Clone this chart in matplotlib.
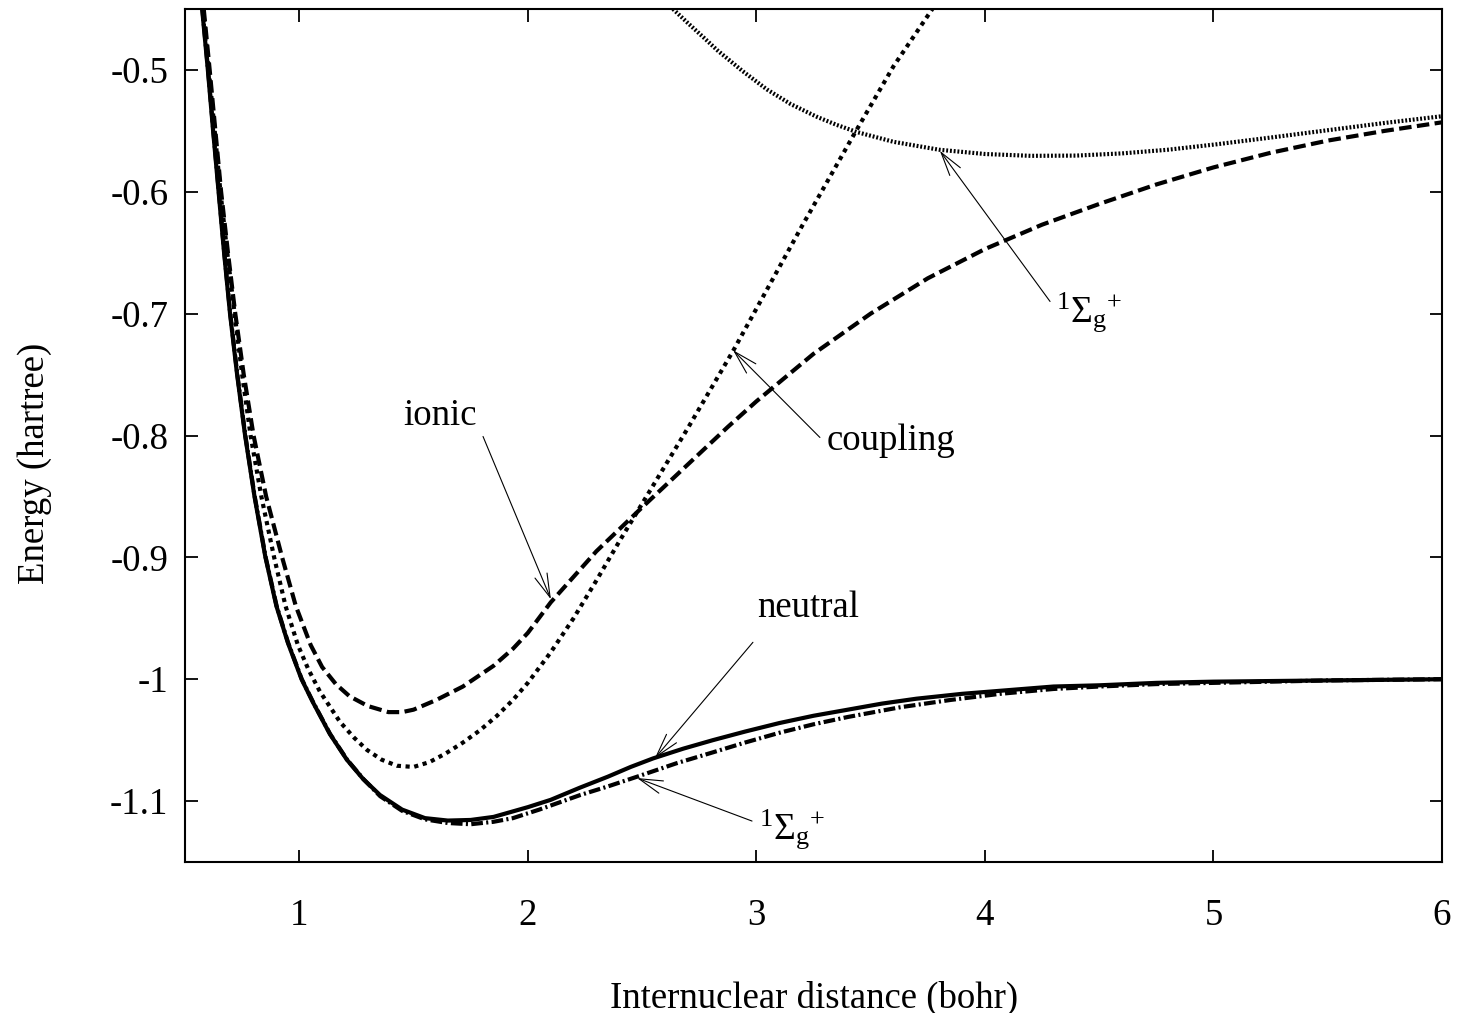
import matplotlib
matplotlib.use("Agg")
import matplotlib.pyplot as plt

plt.rcParams["font.family"] = ["Liberation Serif", "DejaVu Serif"]
plt.rcParams["mathtext.fontset"] = "custom"
plt.rcParams["mathtext.rm"] = "Liberation Serif"
plt.rcParams["mathtext.it"] = "Liberation Serif:italic"
plt.rcParams["axes.unicode_minus"] = False

# Potential energy curves (bohr, hartree)
neutral_r = [0.575, 0.600, 0.623, 0.647, 0.671, 0.697, 0.728, 0.763, 0.804, 0.852,
             0.900, 0.950, 1.010, 1.060, 1.134, 1.208, 1.280, 1.353, 1.450, 1.550,
             1.650, 1.750, 1.850, 2.000, 2.100, 2.228, 2.350, 2.450, 2.548, 2.680,
             2.810, 2.950, 3.100, 3.250, 3.400, 3.550, 3.700, 3.900, 4.100, 4.300,
             4.500, 4.750, 5.000, 5.500, 6.000]
neutral_e = [-0.450, -0.500, -0.550, -0.600, -0.650, -0.700, -0.750, -0.800, -0.850, -0.900,
             -0.940, -0.970, -1.000, -1.019, -1.045, -1.066, -1.082, -1.095, -1.107, -1.114,
             -1.116, -1.1155, -1.113, -1.105, -1.099, -1.089, -1.080, -1.072, -1.065, -1.057,
             -1.050, -1.043, -1.036, -1.030, -1.025, -1.020, -1.016, -1.012, -1.009, -1.006,
             -1.005, -1.003, -1.002, -1.001, -1.000]

ground_r = [0.576, 0.601, 0.624, 0.648, 0.672, 0.698, 0.729, 0.764, 0.805, 0.853,
            0.901, 0.951, 1.011, 1.061, 1.135, 1.209, 1.281, 1.354, 1.450, 1.550,
            1.650, 1.750, 1.850, 1.935, 2.050, 2.230, 2.350, 2.478, 2.650, 2.810,
            2.950, 3.100, 3.250, 3.400, 3.630, 3.850, 4.066, 4.300, 4.500, 4.750,
            5.000, 5.500, 6.000]
ground_e = [-0.450, -0.500, -0.550, -0.600, -0.650, -0.700, -0.750, -0.800, -0.850, -0.900,
            -0.940, -0.970, -1.000, -1.019, -1.045, -1.066, -1.082, -1.096, -1.108, -1.115,
            -1.118, -1.119, -1.117, -1.114, -1.107, -1.095, -1.088, -1.080, -1.069, -1.060,
            -1.052, -1.044, -1.037, -1.031, -1.023, -1.017, -1.012, -1.008, -1.006, -1.004,
            -1.003, -1.001, -1.000]

ionic_r = [0.582, 0.608, 0.633, 0.658, 0.688, 0.720, 0.757, 0.800, 0.855, 0.925,
           0.985, 1.050, 1.100, 1.160, 1.220, 1.300, 1.390, 1.450, 1.500, 1.600,
           1.716, 1.850, 1.935, 2.000, 2.100, 2.200, 2.300, 2.400, 2.500, 2.625,
           2.750, 2.875, 3.000, 3.250, 3.500, 3.750, 4.000, 4.250, 4.500, 4.750,
           5.000, 5.250, 5.500, 5.750, 6.000]
ionic_e = [-0.450, -0.500, -0.550, -0.600, -0.650, -0.700, -0.750, -0.800, -0.850, -0.900,
           -0.940, -0.972, -0.990, -1.004, -1.014, -1.022, -1.027, -1.027, -1.025, -1.017,
           -1.006, -0.989, -0.975, -0.962, -0.937, -0.916, -0.895, -0.877, -0.859, -0.837,
           -0.815, -0.793, -0.772, -0.733, -0.700, -0.671, -0.647, -0.627, -0.610, -0.594,
           -0.580, -0.568, -0.558, -0.550, -0.543]

coupling_r = [0.579, 0.604, 0.630, 0.655, 0.685, 0.717, 0.750, 0.787, 0.834, 0.890,
              0.940, 0.994, 1.040, 1.090, 1.178, 1.240, 1.296, 1.360, 1.427, 1.500,
              1.570, 1.640, 1.716, 1.790, 1.865, 1.935, 2.000, 2.100, 2.200, 2.300,
              2.400, 2.500, 2.600, 2.700, 2.800, 2.900, 3.000, 3.100, 3.200, 3.300,
              3.430, 3.600, 3.770]
coupling_e = [-0.450, -0.500, -0.550, -0.600, -0.650, -0.700, -0.750, -0.800, -0.850, -0.900,
              -0.940, -0.972, -0.992, -1.010, -1.035, -1.048, -1.058, -1.066, -1.071, -1.072,
              -1.068, -1.061, -1.052, -1.042, -1.030, -1.017, -1.003, -0.978, -0.950, -0.919,
              -0.887, -0.856, -0.825, -0.794, -0.762, -0.730, -0.696, -0.662, -0.628, -0.595,
              -0.552, -0.497, -0.450]

excited_r = [2.635, 2.700, 2.770, 2.830, 2.940, 3.046, 3.150, 3.265, 3.350, 3.440,
             3.600, 3.800, 4.000, 4.200, 4.400, 4.600, 4.800, 5.015, 5.250, 5.520,
             5.750, 6.000]
excited_e = [-0.450, -0.4615, -0.4735, -0.484, -0.501, -0.516, -0.528, -0.5385, -0.545, -0.551,
             -0.559, -0.5655, -0.569, -0.5705, -0.5703, -0.5685, -0.5655, -0.561, -0.5555, -0.549,
             -0.5435, -0.538]

x_ticks = [1, 2, 3, 4, 5, 6]
y_ticks = [-1.1, -1.0, -0.9, -0.8, -0.7, -0.6, -0.5]
y_tick_labels = ["-1.1", "-1", "-0.9", "-0.8", "-0.7", "-0.6", "-0.5"]

W, H, DPI = 1472, 1013, 100
fig = plt.figure(figsize=(W / DPI, H / DPI), dpi=DPI)
ax = fig.add_axes([185 / W, 1 - 862 / H, (1442 - 185) / W, (862 - 9) / H])

LW = 3.0
ax.plot(neutral_r, neutral_e, color="black", lw=LW, solid_joinstyle="round")
ax.plot(ground_r, ground_e, color="black", lw=LW, linestyle=(0, (2.8, 0.8, 0.5, 0.8)))
ax.plot(ionic_r, ionic_e, color="black", lw=LW, linestyle=(0, (3.0, 1.3)))
ax.plot(coupling_r, coupling_e, color="black", lw=LW, linestyle=(0, (1.0, 1.1)))
ax.plot(excited_r, excited_e, color="black", lw=LW, linestyle=(0, (0.45, 0.45)))

ax.set_xlim(0.5, 6.0)
ax.set_ylim(-1.15, -0.45)
ax.set_xticks(x_ticks)
ax.set_xticklabels([str(t) for t in x_ticks])
ax.set_yticks(y_ticks)
ax.set_yticklabels(y_tick_labels)
ax.tick_params(direction="in", length=9, width=1.3, top=True, right=True,
               labelsize=26.5, color="black")
ax.tick_params(axis="x", pad=26)
ax.tick_params(axis="y", pad=12)
for s in ax.spines.values():
    s.set_linewidth(1.5)

fig.text(35 / W, 1 - 463 / H, "Energy (hartree)", rotation=90, fontsize=26.5,
         ha="center", va="center")
fig.text(814 / W, 1 - 998 / H, "Internuclear distance (bohr)", fontsize=26.5,
         ha="center", va="center")

arrow_kw = dict(arrowstyle="->,head_length=1.7,head_width=0.47", lw=0.8, color="black",
                shrinkA=0, shrinkB=0, mutation_scale=10)

def pointer(tip, tail):
    ax.annotate("", xy=tip, xytext=tail, arrowprops=arrow_kw)

pointer((2.101, -0.9344), (1.804, -0.8008))
ax.text(1.454, -0.791, "ionic", fontsize=26.5, ha="left", va="baseline")

pointer((2.898, -0.730), (3.278, -0.8016))
ax.text(3.309, -0.8115, "coupling", fontsize=26.5, ha="left", va="baseline")

pointer((2.556, -1.0648), (2.985, -0.9697))
ax.text(3.003, -0.949, "neutral", fontsize=26.5, ha="left", va="baseline")

sigma = r"$^{1}\Sigma_{\mathrm{g}}{}^{+}$"
pointer((2.478, -1.0811), (2.981, -1.1164))
ax.text(3.012, -1.131, sigma, fontsize=27, ha="left", va="baseline")

pointer((3.803, -0.5664), (4.285, -0.690))
ax.text(4.31, -0.7066, sigma, fontsize=27, ha="left", va="baseline")

fig.savefig("out.png", dpi=DPI)
